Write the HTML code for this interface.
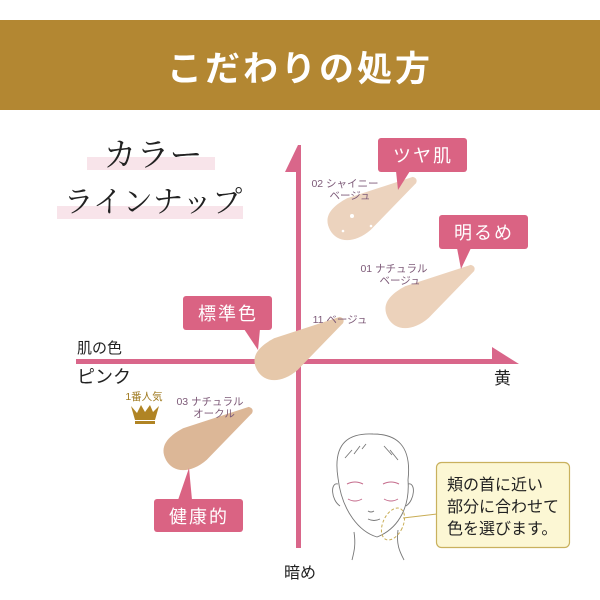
<!DOCTYPE html>
<html><head><meta charset="utf-8"><style>
html,body{margin:0;padding:0;background:#fff;}
svg{display:block;}
text{font-family:"Liberation Sans","Noto Sans CJK JP",sans-serif;}
</style></head><body>
<svg width="600" height="600" viewBox="0 0 600 600" xmlns="http://www.w3.org/2000/svg">
<defs>
<path id="sw" d="M0,0 C0,-15 12,-20 30,-20 L98,-8 Q102,-4 98,-1 L36,19 C14,24 0,14 0,0Z"/>
</defs>
<rect x="0" y="0" width="600" height="600" fill="#fff"/>
<rect x="0" y="20" width="600" height="90" fill="#b38732"/>
<text x="300" y="81" text-anchor="middle" font-size="35" font-weight="bold" fill="#fff" letter-spacing="3">こだわりの処方</text>

<!-- title -->
<rect x="87" y="157" width="128" height="13" fill="#f8e4ea"/>
<rect x="57" y="206" width="186" height="13" fill="#f8e4ea"/>
<text x="153" y="166" text-anchor="middle" font-size="33" fill="#222" style="font-family:'Liberation Serif','Noto Serif CJK SC',serif">カラー</text>
<text x="153" y="212" text-anchor="middle" font-size="30" fill="#222" style="font-family:'Liberation Serif','Noto Serif CJK SC',serif">ラインナップ</text>

<!-- axes -->
<rect x="296" y="165" width="5" height="383" fill="#d9668a"/>
<polygon points="298,145 285,172 301,172 301,145" fill="#d9668a"/>
<rect x="76" y="359" width="425" height="5" fill="#d9668a"/>
<polygon points="519,364 492,347 492,364" fill="#d9668a"/>

<text x="77" y="353" font-size="15" fill="#222">肌の色</text>
<text x="77" y="383" font-size="18" fill="#222">ピンク</text>
<text x="494" y="384" font-size="17" fill="#222">黄</text>
<text x="300" y="578" text-anchor="middle" font-size="16" fill="#222">暗め</text>

<!-- swatches -->
<use href="#sw" transform="translate(330,230) rotate(-28)" fill="#ecd3be"/>
<g fill="#fff"><circle cx="352" cy="216" r="2"/><circle cx="343" cy="231" r="1.3"/><circle cx="371" cy="226" r="1.3"/></g>
<use href="#sw" transform="translate(388,318) rotate(-28)" fill="#ecd2bb"/>
<use href="#sw" transform="translate(257,370) rotate(-28)" fill="#e6c8aa"/>
<use href="#sw" transform="translate(166,460) rotate(-28)" fill="#dcb797"/>

<!-- bubbles -->
<g fill="#da6383">
<rect x="378" y="138" width="89" height="34" rx="3"/><polygon points="396,171 410,171 398,190"/>
<rect x="439" y="215" width="89" height="34" rx="3"/><polygon points="457,248 471,248 461,269"/>
<rect x="183" y="296" width="89" height="34" rx="3"/><polygon points="244,329 260,329 258,350"/>
<rect x="154" y="499" width="89" height="33" rx="3"/><polygon points="178,500 192,500 189,468"/>
</g>
<g font-size="18" fill="#fff" text-anchor="middle" letter-spacing="2">
<text x="423" y="162">ツヤ肌</text>
<text x="484" y="239">明るめ</text>
<text x="228" y="320">標準色</text>
<text x="199" y="523">健康的</text>
</g>

<g font-size="10.5" fill="#7d5a78" text-anchor="middle">
<text x="345" y="187">02 シャイニー</text>
<text x="350" y="199">ベージュ</text>
<text x="394" y="272">01 ナチュラル</text>
<text x="400" y="284">ベージュ</text>
<text x="340" y="323">11 ベージュ</text>
<text x="210" y="405">03 ナチュラル</text>
<text x="214" y="417">オークル</text>
</g>
<text x="144" y="400" font-size="10.5" fill="#a07b22" text-anchor="middle">1番人気</text>
<polygon points="131,406 137,413 141,405 145,412 150,405 153,412 159,406 155,420 135,420" fill="#b08424"/>
<rect x="135" y="421" width="20" height="3" fill="#b08424"/>

<!-- face -->
<g fill="none" stroke="#777" stroke-width="0.9">
<path d="M338,478 C332,440 352,433 373,434 C396,434 412,445 408,480 C410,505 400,528 377,537 C360,532 342,512 338,478Z"/>
<path d="M338,484 C330,482 331,500 340,506"/>
<path d="M408,484 C416,482 415,500 406,506"/>
<path d="M354,532 C356,545 354,552 352,560"/>
<path d="M398,530 C396,545 400,552 404,560"/>
<path d="M352,450 L345,458 M360,446 L354,454 M366,444 L362,449 M384,446 L392,455 M390,450 L398,460"/>
<path d="M368,511 q3,2 6,0" />
<path d="M368,519 q6,3 12,0"/>
</g>
<g fill="none" stroke="#c56c8c" stroke-width="1">
<path d="M347,484 q8,-4 16,0"/><path d="M383,484 q8,-4 16,0"/>
<path d="M348,499 q7,4 14,0"/><path d="M384,499 q7,4 14,0"/>
</g>
<ellipse cx="393" cy="524" rx="10" ry="17" transform="rotate(25 393 524)" fill="none" stroke="#c9ad55" stroke-width="1" stroke-dasharray="3,2"/>
<line x1="403" y1="518" x2="437" y2="514" stroke="#c9ad55" stroke-width="1"/>

<rect x="436.5" y="462.5" width="133" height="85" rx="5" fill="#fcf7d4" stroke="#c9b15e" stroke-width="1.2"/>
<g font-size="16" fill="#222">
<text x="447" y="490">頬の首に近い</text>
<text x="447" y="512">部分に合わせて</text>
<text x="447" y="534">色を選びます。</text>
</g>
</svg>
</body></html>
